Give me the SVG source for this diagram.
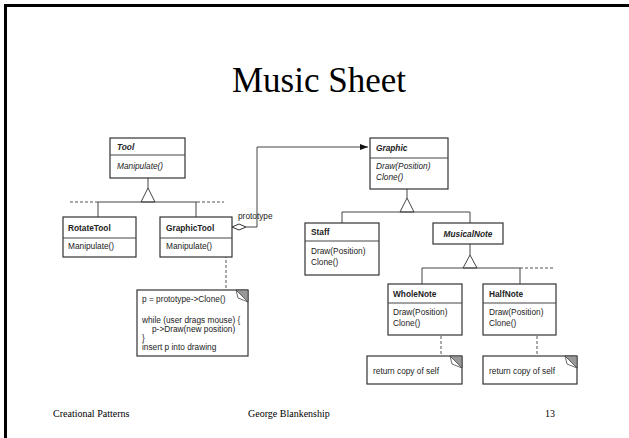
<svg xmlns="http://www.w3.org/2000/svg" width="629" height="438" viewBox="0 0 629 438">
<style>
.box{fill:#fff;stroke:#333;stroke-width:1.2}
.ln{fill:none;stroke:#444;stroke-width:1}
.dash{fill:none;stroke:#555;stroke-width:1;stroke-dasharray:3,2}
.t{font-family:"Liberation Sans",Arial,sans-serif;font-size:8.3px;fill:#222}
.b{font-weight:bold}
.i{font-style:italic}
.s{font-family:"Liberation Serif","Times New Roman",serif;fill:#000}
.tri{fill:#fff;stroke:#444;stroke-width:1}
.ear{fill:#999;stroke:#444;stroke-width:0.8}
</style>
<defs>
<marker id="arr" markerWidth="8" markerHeight="6" refX="8" refY="3" orient="auto" markerUnits="userSpaceOnUse">
<path d="M0,0 L8,3 L0,6 Z" fill="#111"/>
</marker>
</defs>
<rect width="629" height="438" fill="#fff"/>
<path d="M5.5,438 V5.5 H629" fill="none" stroke="#000" stroke-width="3"/>
<text class="s" x="319" y="92" font-size="35" text-anchor="middle">Music Sheet</text>

<g id="connectors">
<line class="ln" x1="148" y1="178" x2="148" y2="188"/>
<path class="tri" d="M148,188 L141,202 L155,202 Z"/>
<line class="ln" x1="98" y1="202" x2="197" y2="202"/>
<line class="dash" x1="70" y1="202" x2="98" y2="202"/>
<line class="dash" x1="197" y1="202" x2="224" y2="202"/>
<line class="ln" x1="98" y1="202" x2="98" y2="217"/>
<line class="ln" x1="196" y1="202" x2="196" y2="217"/>
<path class="ln" d="M246,227 H257 V147 H368" marker-end="url(#arr)"/>
<path d="M232,227 L239,224 L246,227 L239,230 Z" fill="#fff" stroke="#333" stroke-width="1"/>
<line class="ln" x1="407" y1="189" x2="407" y2="198"/>
<path class="tri" d="M407,198 L400,212 L414,212 Z"/>
<line class="ln" x1="342" y1="212" x2="470" y2="212"/>
<line class="ln" x1="342" y1="212" x2="342" y2="223"/>
<line class="ln" x1="470" y1="212" x2="470" y2="223"/>
<line class="ln" x1="470" y1="244" x2="470" y2="255"/>
<path class="tri" d="M470,255 L463,268 L477,268 Z"/>
<line class="ln" x1="422" y1="268" x2="520" y2="268"/>
<line class="dash" x1="520" y1="268" x2="554" y2="268"/>
<line class="ln" x1="422" y1="268" x2="422" y2="284"/>
<line class="ln" x1="520" y1="268" x2="520" y2="284"/>
<line class="dash" x1="226" y1="250" x2="226" y2="290"/>
<line class="dash" x1="441" y1="326" x2="441" y2="356"/>
<line class="dash" x1="537" y1="326" x2="537" y2="356"/>
<circle cx="226" cy="247.5" r="2.2" fill="#fff" stroke="#444" stroke-width="0.9"/>
<circle cx="441" cy="323.5" r="2.2" fill="#fff" stroke="#444" stroke-width="0.9"/>
<circle cx="537" cy="323.5" r="2.2" fill="#fff" stroke="#444" stroke-width="0.9"/>
<text class="t" x="238" y="219">prototype</text>
</g>

<g id="Tool">
<rect class="box" x="110" y="138" width="75" height="40"/>
<line class="ln" x1="110" y1="155" x2="185" y2="155"/>
<text class="t b i" x="117" y="150">Tool</text>
<text class="t i" x="117" y="169">Manipulate()</text>
</g>

<g id="RotateTool">
<rect class="box" x="63" y="217" width="73" height="40"/>
<line class="ln" x1="63" y1="238" x2="136" y2="238"/>
<text class="t b" x="68" y="231">RotateTool</text>
<text class="t" x="68" y="249">Manipulate()</text>
</g>

<g id="GraphicTool">
<rect class="box" x="160" y="217" width="72" height="40"/>
<line class="ln" x1="160" y1="238" x2="232" y2="238"/>
<text class="t b" x="166" y="231">GraphicTool</text>
<text class="t" x="166" y="249">Manipulate()</text>
</g>

<g id="GraphicToolNote">
<rect class="box" x="137" y="290" width="111" height="66"/>
<path class="ear" d="M236,290 L248,290 L248,302 Z"/>
<path d="M236,290 L238,298 L248,302" fill="none" stroke="#444" stroke-width="0.8"/>
<text class="t" x="142" y="302">p = prototype-&gt;Clone()</text>
<text class="t" x="142" y="323">while (user drags mouse) {</text>
<text class="t" x="152" y="332">p-&gt;Draw(new position)</text>
<text class="t" x="142" y="341">}</text>
<text class="t" x="142" y="350">insert p into drawing</text>
</g>

<g id="Graphic">
<rect class="box" x="370" y="138" width="78" height="51"/>
<line class="ln" x1="370" y1="158" x2="448" y2="158"/>
<text class="t b i" x="376" y="151">Graphic</text>
<text class="t i" x="376" y="169">Draw(Position)</text>
<text class="t i" x="376" y="180">Clone()</text>
</g>

<g id="Staff">
<rect class="box" x="305" y="223" width="74" height="52"/>
<line class="ln" x1="305" y1="241" x2="379" y2="241"/>
<text class="t b" x="311" y="235">Staff</text>
<text class="t" x="311" y="254">Draw(Position)</text>
<text class="t" x="311" y="265">Clone()</text>
</g>

<g id="MusicalNote">
<rect class="box" x="433" y="223" width="70" height="21"/>
<text class="t b i" x="468" y="236.5" text-anchor="middle">MusicalNote</text>
</g>

<g id="WholeNote">
<rect class="box" x="388" y="284" width="74" height="51"/>
<line class="ln" x1="388" y1="303" x2="462" y2="303"/>
<text class="t b" x="393" y="297">WholeNote</text>
<text class="t" x="393" y="315">Draw(Position)</text>
<text class="t" x="393" y="326">Clone()</text>
</g>

<g id="HalfNote">
<rect class="box" x="483" y="284" width="73" height="51"/>
<line class="ln" x1="483" y1="303" x2="556" y2="303"/>
<text class="t b" x="489" y="297">HalfNote</text>
<text class="t" x="489" y="315">Draw(Position)</text>
<text class="t" x="489" y="326">Clone()</text>
</g>

<g id="WholeNoteNote">
<rect class="box" x="367" y="356" width="95" height="28"/>
<path class="ear" d="M450,356 L462,356 L462,368 Z"/>
<path d="M450,356 L452,364 L462,368" fill="none" stroke="#444" stroke-width="0.8"/>
<text class="t" x="373" y="374">return copy of self</text>
</g>

<g id="HalfNoteNote">
<rect class="box" x="483" y="356" width="94" height="28"/>
<path class="ear" d="M565,356 L577,356 L577,368 Z"/>
<path d="M565,356 L567,364 L577,368" fill="none" stroke="#444" stroke-width="0.8"/>
<text class="t" x="489" y="374">return copy of self</text>
</g>

<text class="s" x="53" y="417" font-size="10">Creational Patterns</text>
<text class="s" x="248" y="417" font-size="10">George Blankenship</text>
<text class="s" x="545" y="417" font-size="10">13</text>
</svg>
